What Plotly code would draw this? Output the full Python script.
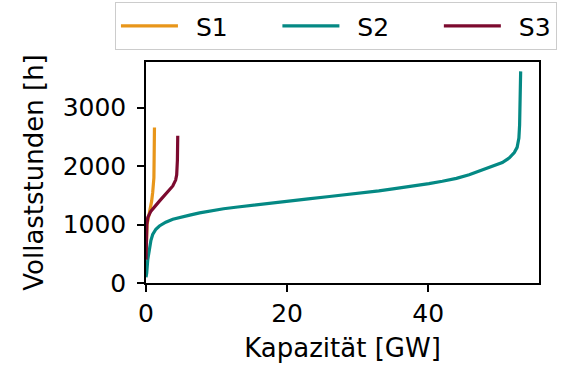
import plotly.graph_objects as go

# Full-load hours vs. cumulative capacity for three scenarios
s1_capacity = [0.0, 0.05, 0.15, 0.35, 0.6, 0.8, 0.95, 1.05, 1.12, 1.15, 1.2]
s1_hours = [450, 800, 1000, 1120, 1250, 1400, 1550, 1650, 1800, 2100, 2660]

s2_capacity = [0.0, 0.1, 0.25, 0.47, 0.7, 0.95, 1.4, 1.9, 2.8, 3.8, 5.0, 6.2, 7.6, 9.0,
               11, 13, 15, 17.5, 20.5, 23, 26, 28.5, 30.6, 33, 35, 37.5, 40.1, 42,
               44, 45.8, 47.2, 48.8, 50.5, 51.5, 52.2, 52.6, 52.85, 52.95, 53.0, 53.05, 53.1]
s2_hours = [100, 170, 400, 600, 730, 830, 920, 975, 1040, 1090, 1130, 1160, 1200, 1230,
            1270, 1300, 1330, 1365, 1405, 1440, 1480, 1510, 1545, 1575, 1610, 1650, 1700, 1740,
            1790, 1850, 1910, 1980, 2060, 2140, 2230, 2320, 2480, 2700, 3000, 3300, 3620]

s3_capacity = [0.0, 0.05, 0.12, 0.25, 0.7, 1.9, 3.0, 3.8, 4.2, 4.35, 4.45, 4.5]
s3_hours = [400, 800, 1000, 1120, 1230, 1400, 1540, 1660, 1760, 1850, 2100, 2520]

series_names = ["S1", "S2", "S3"]
series_colors = ["#E8961A", "#048984", "#7C0A2F"]
series_data = [(s1_capacity, s1_hours), (s2_capacity, s2_hours), (s3_capacity, s3_hours)]

x_ticks = [0, 20, 40]
y_ticks = [0, 1000, 2000, 3000]

# legend spacing: gap between sample line and label, and between entries
LEAD = "\u00a0\u2009"
TRAIL = "\u00a0" * 5 + "\u2009"

fig = go.Figure()
for i, (name, (xs, ys), color) in enumerate(zip(series_names, series_data, series_colors)):
    label = LEAD + name + (TRAIL if i < len(series_names) - 1 else "")
    fig.add_trace(go.Scatter(x=xs, y=ys, mode="lines", name=label,
                             line=dict(color=color, width=3.2)))

axis_common = dict(
    showline=True, linecolor="black", linewidth=1.5, mirror=True,
    ticks="outside", ticklen=7, tickwidth=1.5, tickcolor="black",
    showgrid=False, zeroline=False,
    tickfont=dict(family="DejaVu Sans", size=25, color="black"),
)

fig.update_xaxes(range=[0, 55.7], tickvals=x_ticks,
                 title=dict(text="Kapazität [GW]", standoff=12,
                            font=dict(family="DejaVu Sans", size=26, color="black")),
                 **axis_common)
fig.update_yaxes(range=[0, 3780], tickvals=y_ticks, ticklabelstandoff=6,
                 title=dict(text="Vollaststunden [h]", standoff=12,
                            font=dict(family="DejaVu Sans", size=26, color="black")),
                 **axis_common)

fig.update_layout(
    width=569, height=365,
    margin=dict(l=146, r=30, t=62, b=82, autoexpand=False),
    plot_bgcolor="white", paper_bgcolor="white",
    font=dict(family="DejaVu Sans", size=25, color="black"),
    legend=dict(
        orientation="h", x=-0.079, y=1.271, xanchor="left", yanchor="top",
        bordercolor="#cccccc", borderwidth=1, bgcolor="white", itemwidth=57,
        font=dict(family="DejaVu Sans", size=25, color="black"),
    ),
)

fig.write_html("out.html")
